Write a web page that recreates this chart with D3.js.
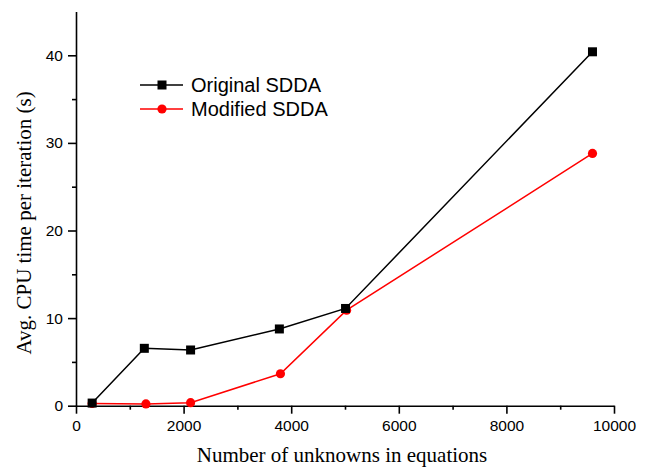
<!DOCTYPE html>
<html>
<head>
<meta charset="utf-8">
<script src="https://cdn.jsdelivr.net/npm/d3@7"></script>
<style>
  body { margin: 0; background: #fff; }
  svg { display: block; }
</style>
</head>
<body>
<script>
// 数据
var originalX = [300, 1270, 2130, 3780, 5010, 9600]
var originalY = [0.3, 6.55, 6.36, 8.76, 11.1, 40.4]
var modifiedX = [300, 1300, 2130, 3800, 5030, 9600]
var modifiedY = [0.25, 0.2, 0.35, 3.65, 10.9, 28.8]
var seriesNames = ['Original SDDA', 'Modified SDDA']
var xTicks = [0, 2000, 4000, 6000, 8000, 10000]
var yTicks = [0, 10, 20, 30, 40]
var xTitle = 'Number of unknowns in equations'
var yTitle = 'Avg. CPU time per iteration (s)'

var width = 649, height = 469

var svg = d3.select('body').append('svg')
  .attr('width', width)
  .attr('height', height)

var x = d3.scaleLinear().domain([0, 10000]).range([76, 614])
var y = d3.scaleLinear().domain([0, 45]).range([405.7, 11.5])

var sans = 'Arial, "Liberation Sans", sans-serif'
var serif = '"Times New Roman", "Liberation Serif", serif'

// 坐标轴 - 次刻度
svg.append('g')
  .attr('transform', 'translate(0,' + y(0) + ')')
  .call(d3.axisBottom(x).tickValues(d3.range(1000, 10000, 2000)).tickSize(4).tickFormat(''))
  .call(g => g.select('.domain').remove())
svg.append('g')
  .attr('transform', 'translate(' + x(0) + ',0)')
  .call(d3.axisLeft(y).tickValues([5, 15, 25, 35]).tickSize(4).tickFormat(''))
  .call(g => g.select('.domain').remove())

// 坐标轴 - 主刻度
var xAxis = svg.append('g')
  .attr('transform', 'translate(0,' + y(0) + ')')
  .call(d3.axisBottom(x).tickValues(xTicks).tickSize(8).tickPadding(6).tickSizeOuter(0).tickFormat(d3.format('d')))
var yAxis = svg.append('g')
  .attr('transform', 'translate(' + x(0) + ',0)')
  .call(d3.axisLeft(y).tickValues(yTicks).tickSize(8).tickPadding(5).tickSizeOuter(0))

svg.selectAll('.tick line, .domain')
  .attr('stroke', '#000')
  .attr('stroke-width', 1.6)
svg.selectAll('.tick text')
  .attr('fill', '#000')
  .style('font-family', sans)
  .style('font-size', '15.5px')

// 轴标题
svg.append('text')
  .attr('x', 342)
  .attr('y', 462)
  .attr('text-anchor', 'middle')
  .style('font-family', serif)
  .style('font-size', '21px')
  .text(xTitle)
svg.append('text')
  .attr('transform', 'translate(31,223) rotate(-90)')
  .attr('text-anchor', 'middle')
  .style('font-family', serif)
  .style('font-size', '21px')
  .text(yTitle)

// 连线
var line = d3.line().x(d => x(d[0])).y(d => y(d[1]))
var original = originalX.map((v, i) => [v, originalY[i]])
var modified = modifiedX.map((v, i) => [v, modifiedY[i]])

svg.append('path')
  .datum(modified)
  .attr('fill', 'none')
  .attr('stroke', '#ff0000')
  .attr('stroke-width', 1.5)
  .attr('d', line)
svg.selectAll('.redDot')
  .data(modified)
  .enter()
  .append('circle')
  .attr('class', 'redDot')
  .attr('cx', d => x(d[0]))
  .attr('cy', d => y(d[1]))
  .attr('r', 4.6)
  .attr('fill', '#ff0000')

svg.append('path')
  .datum(original)
  .attr('fill', 'none')
  .attr('stroke', '#000')
  .attr('stroke-width', 1.5)
  .attr('d', line)
svg.selectAll('.blackSq')
  .data(original)
  .enter()
  .append('rect')
  .attr('class', 'blackSq')
  .attr('x', d => x(d[0]) - 4.5)
  .attr('y', d => y(d[1]) - 4.5)
  .attr('width', 9)
  .attr('height', 9)
  .attr('fill', '#000')

// 图例
var legend = svg.append('g')
var colors = ['#000', '#ff0000']
seriesNames.forEach((name, i) => {
  var ly = 85 + i * 24
  legend.append('line')
    .attr('x1', 140).attr('x2', 183)
    .attr('y1', ly).attr('y2', ly)
    .attr('stroke', colors[i])
    .attr('stroke-width', 1.5)
  if (i === 0) {
    legend.append('rect')
      .attr('x', 157.5).attr('y', ly - 4.5)
      .attr('width', 9).attr('height', 9)
      .attr('fill', colors[i])
  } else {
    legend.append('circle')
      .attr('cx', 162).attr('cy', ly)
      .attr('r', 4.6)
      .attr('fill', colors[i])
  }
  legend.append('text')
    .attr('x', 191)
    .attr('y', ly + 7)
    .style('font-family', sans)
    .style('font-size', '20px')
    .text(name)
})
</script>
</body>
</html>
